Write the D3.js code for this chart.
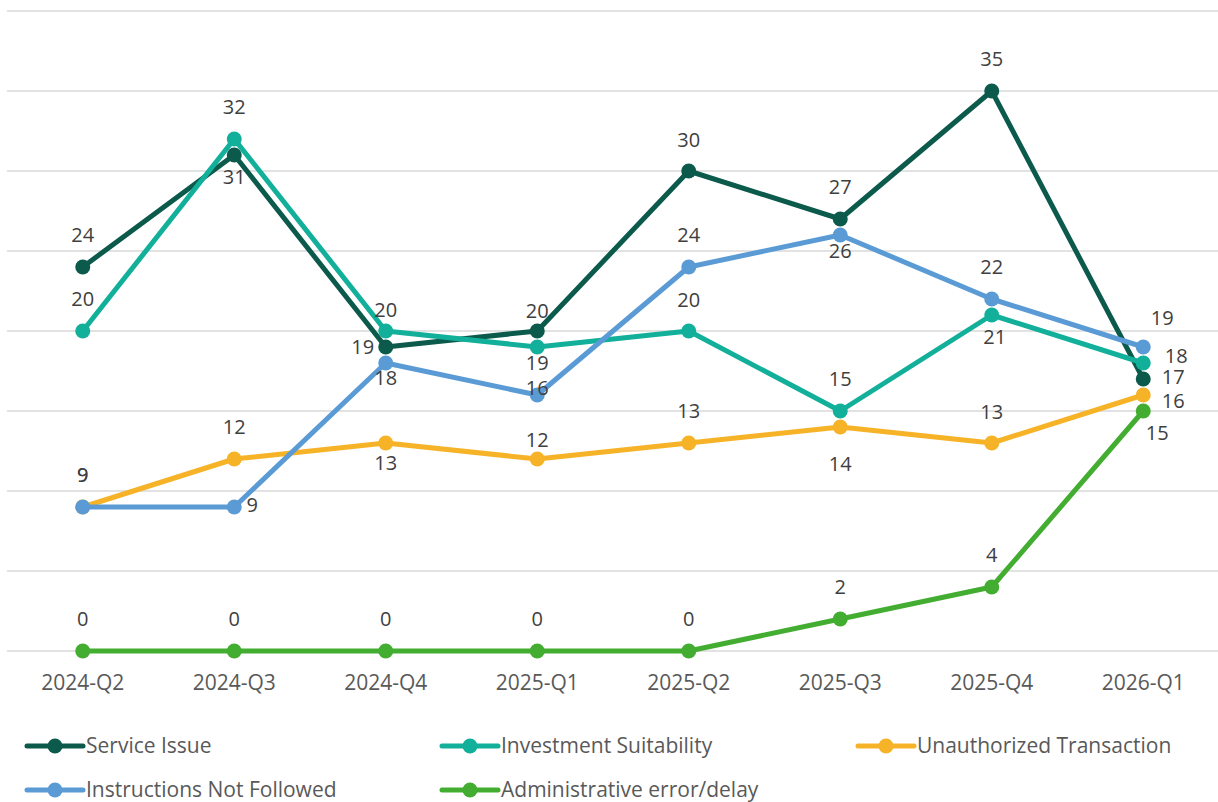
<!DOCTYPE html>
<html>
<head>
<meta charset="utf-8">
<script src="https://cdn.jsdelivr.net/npm/d3@7"></script>
<style>
  body { margin: 0; background: #fff; }
  svg { display: block; font-family: "Open Sans", sans-serif; }
</style>
</head>
<body>
<div id="chart"></div>
<script>
// quarters on the x axis
var quarters = ["2024-Q2", "2024-Q3", "2024-Q4", "2025-Q1", "2025-Q2", "2025-Q3", "2025-Q4", "2026-Q1"];

// series values
var serviceIssue = [24, 31, 19, 20, 30, 27, 35, 17];
var investmentSuitability = [20, 32, 20, 19, 20, 15, 21, 18];
var unauthorizedTransaction = [9, 12, 13, 12, 13, 14, 13, 16];
var instructionsNotFollowed = [9, 9, 18, 16, 24, 26, 22, 19];
var adminError = [0, 0, 0, 0, 0, 2, 4, 15];

var seriesNames = ["Service Issue", "Investment Suitability", "Unauthorized Transaction",
  "Instructions Not Followed", "Administrative error/delay"];
var yTicks = [0, 5, 10, 15, 20, 25, 30, 35, 40];

// label nudges (dx, dy from the point), as placed in the original
var labelNudge = [
  [[0, -32], [0, 22], [-23, 0], [0, -20], [0, -31], [0, -32], [0, -32], [30, -2]],
  [[0, -32], [0, -32], [0, -21], [0, 16], [0, -31], [0, -32], [3, 22], [33, -7]],
  [[0, -32], [0, -32], [0, 20], [0, -19], [0, -32], [0, 37], [0, -31], [30, 6]],
  [[0, -32], [18, -2], [0, 15], [0, -7], [0, -32], [0, 16], [0, -32], [19, -29]],
  [[0, -32], [0, -32], [0, -32], [0, -32], [0, -32], [0, -32], [0, -32], [14, 22]]
];

var colors = ["#0b5a4b", "#12b09a", "#f6b328", "#5b9bd5", "#43ad31"];

var data = [serviceIssue, investmentSuitability, unauthorizedTransaction, instructionsNotFollowed, adminError]
  .map(function(vals, i) { return { name: seriesNames[i], values: vals, color: colors[i], nudge: labelNudge[i] }; });

var width = 1218, height = 802;
var plot = { left: 7, right: 1219, top: 11, bottom: 651 };

var svg = d3.select("#chart").append("svg")
  .attr("width", width)
  .attr("height", height);

var x = d3.scaleBand()
  .domain(quarters)
  .range([plot.left, plot.right]);

var y = d3.scaleLinear()
  .domain([0, 40])
  .range([plot.bottom, plot.top]);

var cx = function(q) { return x(q) + x.bandwidth() / 2; };

// gridlines
svg.append("g")
  .selectAll("line")
  .data(yTicks).enter()
  .append("line")
  .attr("x1", plot.left)
  .attr("x2", plot.right)
  .attr("y1", function(d) { return y(d); })
  .attr("y2", function(d) { return y(d); })
  .attr("stroke", "#d9d9d9")
  .attr("stroke-width", 1.5);

// x axis labels
var xAxis = d3.axisBottom(x).tickSize(0).tickPadding(24);
svg.append("g")
  .attr("transform", "translate(0," + plot.bottom + ")")
  .call(xAxis)
  .call(function(g) { g.select(".domain").remove(); })
  .selectAll("text")
  .attr("font-size", 21)
  .attr("font-family", "Open Sans, sans-serif")
  .attr("fill", "#595959");

var line = d3.line()
  .x(function(d, i) { return cx(quarters[i]); })
  .y(function(d) { return y(d); });

var groups = svg.append("g").selectAll("g.series")
  .data(data).enter()
  .append("g")
  .attr("class", "series");

groups.append("path")
  .attr("d", function(d) { return line(d.values); })
  .attr("fill", "none")
  .attr("stroke", function(d) { return d.color; })
  .attr("stroke-width", 5)
  .attr("stroke-linejoin", "round")
  .attr("stroke-linecap", "round");

groups.selectAll("circle")
  .data(function(d) { return d.values.map(function(v) { return { v: v, color: d.color }; }); })
  .enter()
  .append("circle")
  .attr("cx", function(d, i) { return cx(quarters[i]); })
  .attr("cy", function(d) { return y(d.v); })
  .attr("r", 7.5)
  .attr("fill", function(d) { return d.color; });

// data labels
var labels = svg.append("g");
data.forEach(function(s) {
  s.values.forEach(function(v, i) {
    labels.append("text")
      .attr("x", cx(quarters[i]) + s.nudge[i][0])
      .attr("y", y(v) + s.nudge[i][1])
      .attr("dy", "0.35em")
      .attr("text-anchor", "middle")
      .attr("font-size", 20)
      .attr("fill", "#404040")
      .text(v);
  });
});

// legend
var legend = svg.append("g");
var legendPos = [[27, 746], [442, 746], [858, 746], [27, 790], [442, 790]];
data.forEach(function(s, i) {
  var g = legend.append("g").attr("transform", "translate(" + legendPos[i][0] + "," + legendPos[i][1] + ")");
  g.append("line")
    .attr("x1", 0).attr("x2", 56)
    .attr("stroke", s.color)
    .attr("stroke-width", 5)
    .attr("stroke-linecap", "round");
  g.append("circle")
    .attr("cx", 28).attr("r", 7.5)
    .attr("fill", s.color);
  g.append("text")
    .attr("x", 59)
    .attr("dy", "0.35em")
    .attr("font-size", 21)
    .attr("fill", "#595959")
    .text(s.name);
});
</script>
</body>
</html>
